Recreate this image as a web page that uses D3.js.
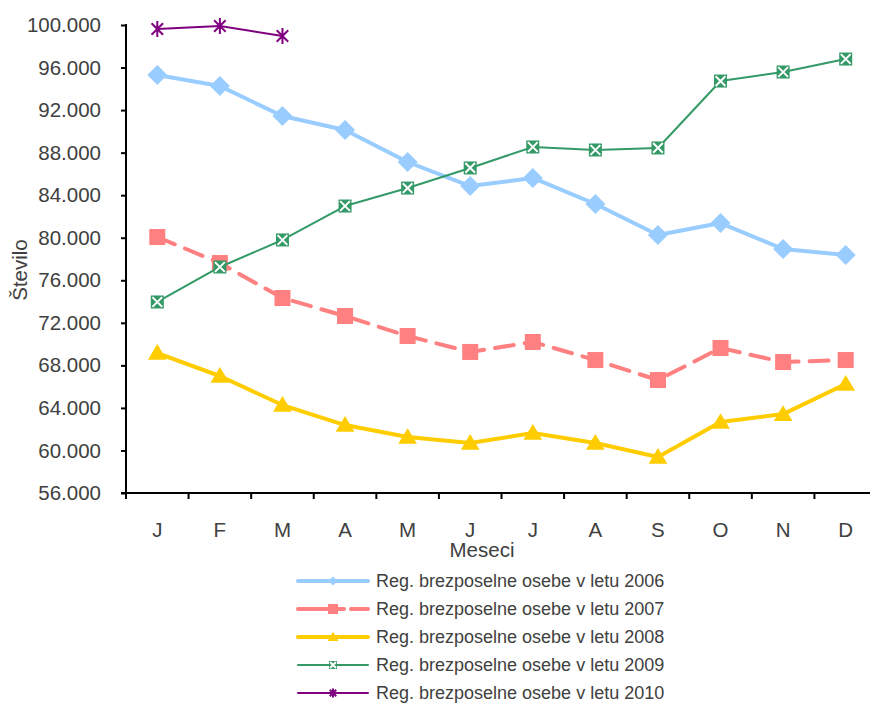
<!DOCTYPE html>
<html>
<head>
<meta charset="utf-8">
<script src="https://cdn.jsdelivr.net/npm/d3@7/dist/d3.min.js"></script>
<style>
  html, body { margin: 0; padding: 0; background: #fff; }
  text { font-family: "Liberation Sans", Arial, sans-serif; fill: #404040; }
</style>
</head>
<body>
<svg id="chart" width="870" height="706"></svg>
<script>
const months = ["J","F","M","A","M","J","J","A","S","O","N","D"];
const yTicks = [56000,60000,64000,68000,72000,76000,80000,84000,88000,92000,96000,100000];
const s2006 = [95300,94260,91440,90130,87120,84860,85620,83170,80260,81380,78940,78380];
const s2007 = [80070,77620,74330,72640,70760,69260,70200,68500,66620,69630,68310,68500];
const s2008 = [69160,67000,64270,62390,61260,60700,61640,60700,59380,62670,63420,66250];
const s2009 = [73960,77250,79790,82980,84670,86560,88530,88250,88440,94730,95580,96800];
const s2010 = [99620,99900,98970];
const seriesNames = [
  "Reg. brezposelne osebe v letu 2006",
  "Reg. brezposelne osebe v letu 2007",
  "Reg. brezposelne osebe v letu 2008",
  "Reg. brezposelne osebe v letu 2009",
  "Reg. brezposelne osebe v letu 2010"
];

const styles = [
  {color:"#99CCFF", width:4, dash:null, marker:"diamond", size:20, lsize:9},
  {color:"#FF8080", width:4, dash:"19,11", marker:"square", size:16, lsize:10},
  {color:"#FFCC00", width:4, dash:null, marker:"triangle", size:17, lsize:10},
  {color:"#339966", width:2, dash:null, marker:"xsquare", size:13, lsize:8},
  {color:"#800080", width:2, dash:null, marker:"star", size:16, lsize:9}
];
const data = [s2006, s2007, s2008, s2009, s2010];

const svg = d3.select("#chart");
const pLeft = 126, pRight = 877, pTop = 25, pBottom = 493;
const FS = 20.5;

const x = d3.scaleBand().domain(d3.range(12)).range([pLeft, pRight]).padding(0);
const y = d3.scaleLinear().domain([56000, 100000]).range([pBottom, pTop]);

const tickFmt = v => Math.round(v/1000) + ".000";

// Y axis
const yAxis = svg.append("g").attr("transform", `translate(${pLeft},0)`)
  .call(d3.axisLeft(y).tickValues(yTicks).tickFormat(tickFmt).tickSize(5).tickPadding(20));
yAxis.select(".domain").attr("stroke", "#000").attr("stroke-width", 2).attr("d", `M0,${pBottom}V${pTop-1}`);
yAxis.selectAll(".tick line").attr("stroke", "#000").attr("stroke-width", 2);
yAxis.selectAll(".tick text").attr("font-size", FS).attr("fill", "#404040")
  .attr("font-family", "Liberation Sans, Arial, sans-serif");

// X axis
const xAxis = svg.append("g").attr("transform", `translate(0,${pBottom})`)
  .call(d3.axisBottom(x).tickSize(0).tickFormat(i => months[i]).tickPadding(29));
xAxis.select(".domain").attr("stroke", "#000").attr("stroke-width", 2).attr("d", `M${pLeft-5},0H${pRight}`);
xAxis.selectAll(".tick text").attr("font-size", FS).attr("fill", "#404040")
  .attr("font-family", "Liberation Sans, Arial, sans-serif");
const bounds = d3.range(13).map(i => pLeft + i * x.bandwidth());
xAxis.selectAll(".btick").data(bounds).enter().append("line")
  .attr("x1", d => d).attr("x2", d => d).attr("y1", 0).attr("y2", 6)
  .attr("stroke", "#000").attr("stroke-width", 2);

// Axis titles
svg.append("text").attr("x", 482).attr("y", 557).attr("text-anchor", "middle")
  .attr("font-size", FS).text("Meseci");
svg.append("text").attr("transform", "translate(27,270) rotate(-90)").attr("text-anchor", "middle")
  .attr("font-size", FS).text("Število");

function drawMarker(g, type, cx, cy, s, color) {
  const h = s / 2;
  if (type === "diamond") {
    g.append("path").attr("d", `M${cx},${cy-h}L${cx+h},${cy}L${cx},${cy+h}L${cx-h},${cy}Z`).attr("fill", color);
  } else if (type === "square") {
    g.append("rect").attr("x", cx-h).attr("y", cy-h).attr("width", s).attr("height", s).attr("fill", color);
  } else if (type === "triangle") {
    g.append("path").attr("d", `M${cx},${cy-h*1.05}L${cx+h*1.1},${cy+h*0.8}L${cx-h*1.1},${cy+h*0.8}Z`).attr("fill", color);
  } else if (type === "xsquare") {
    g.append("rect").attr("x", cx-h).attr("y", cy-h).attr("width", s).attr("height", s).attr("fill", color);
    const k = h*0.75;
    g.append("path").attr("d", `M${cx-k},${cy-k}L${cx+k},${cy+k}M${cx+k},${cy-k}L${cx-k},${cy+k}`)
      .attr("stroke", "#fff").attr("stroke-width", 2);
  } else if (type === "star") {
    const k = h*0.72;
    g.append("path").attr("d", `M${cx-k},${cy-k}L${cx+k},${cy+k}M${cx+k},${cy-k}L${cx-k},${cy+k}M${cx},${cy-h}L${cx},${cy+h}`)
      .attr("stroke", color).attr("stroke-width", 2);
  }
}

const line = d3.line().x((d, i) => x(i) + x.bandwidth()/2).y(d => y(d));

data.forEach((vals, si) => {
  const st = styles[si];
  const g = svg.append("g");
  g.append("path").datum(vals).attr("d", line).attr("fill", "none")
    .attr("stroke", st.color).attr("stroke-width", st.width)
    .attr("stroke-linejoin", "round")
    .attr("stroke-linecap", st.dash ? "round" : "butt")
    .attr("stroke-dasharray", st.dash);
  vals.forEach((v, i) => drawMarker(g, st.marker, x(i) + x.bandwidth()/2, y(v), st.size, st.color));
});

// Legend
const legX1 = 298, legX2 = 368, legY0 = 581, legDy = 28;
seriesNames.forEach((name, si) => {
  const st = styles[si];
  const ly = legY0 + si * legDy;
  const g = svg.append("g");
  if (st.dash) {
    g.append("line").attr("x1", legX1).attr("x2", 344).attr("y1", ly).attr("y2", ly)
      .attr("stroke", st.color).attr("stroke-width", st.width).attr("stroke-linecap", "round");
    g.append("line").attr("x1", 351).attr("x2", legX2).attr("y1", ly).attr("y2", ly)
      .attr("stroke", st.color).attr("stroke-width", st.width).attr("stroke-linecap", "round");
  } else {
    g.append("line").attr("x1", legX1).attr("x2", legX2).attr("y1", ly).attr("y2", ly)
      .attr("stroke", st.color).attr("stroke-width", st.width).attr("stroke-linecap", "round");
  }
  drawMarker(g, st.marker, 333, ly, st.lsize, st.color);
  g.append("text").attr("x", 376).attr("y", ly).attr("dy", "0.35em")
    .attr("font-size", 18).text(name);
});
</script>
</body>
</html>
